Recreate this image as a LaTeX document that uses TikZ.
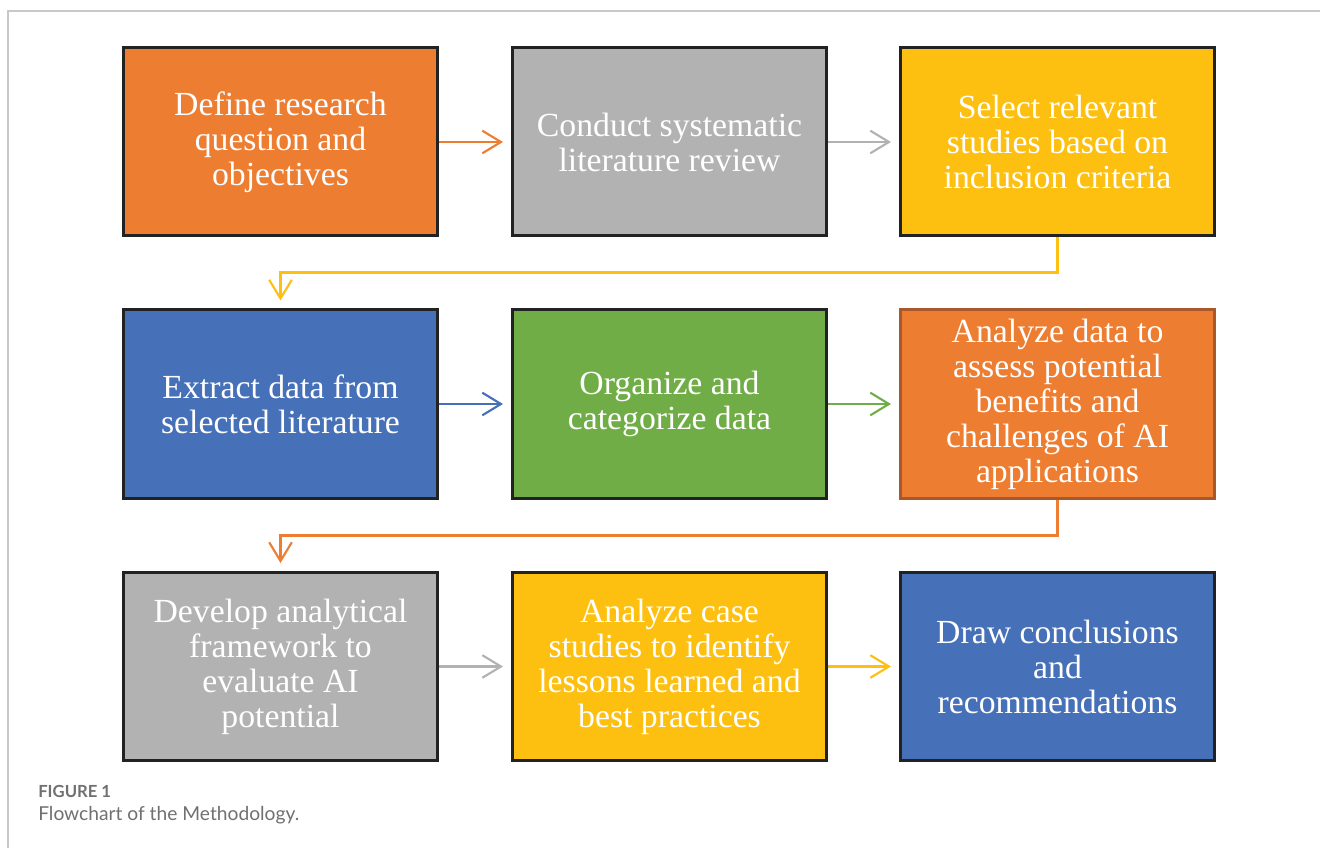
\documentclass[tikz,border=0pt]{standalone}
\usepackage{fontspec}
\setmainfont{Liberation Serif}
\newfontfamily\capfont{Lato}
\usetikzlibrary{arrows.meta}
\definecolor{cora}{HTML}{ED7D31}
\definecolor{cgray}{HTML}{B2B2B2}
\definecolor{cyel}{HTML}{FDC010}
\definecolor{cblue}{HTML}{4670B8}
\definecolor{cgreen}{HTML}{70AD47}
\definecolor{cframe}{HTML}{C8C8C8}
\definecolor{ccap}{HTML}{707070}
\definecolor{cdark}{HTML}{222222}
\definecolor{cbrown}{HTML}{A8582A}
\tikzset{
  box/.style={draw=cdark, line width=2.25pt, minimum width=235.5pt, minimum height=141pt,
    text=white, align=center, inner sep=0pt,
    font=\fontsize{25.3}{26.25}\selectfont},
  conn/.style={line width=1.6pt, -{Straight Barb[length=14pt,width=17pt,line width=1.6pt]}, shorten >=6pt},
}
\begin{document}
\begin{tikzpicture}[x=0.75pt,y=-0.75pt]
\useasboundingbox (0,0) rectangle (1320,848);
\draw[cframe, line width=0.9pt] (8,848) -- (8,11) -- (1320,11);
% row 1
\node[box, fill=cora]  (b1) at (280.5,142) {Define research\\question and\\objectives};
\node[box, fill=cgray] (b2) at (669.5,142) {Conduct systematic\\literature review};
\node[box, fill=cyel]  (b3) at (1057.5,142) {Select relevant\\studies based on\\inclusion criteria};
% row 2
\node[box, fill=cblue]  (b4) at (280.5,404) {Extract data from\\selected literature};
\node[box, fill=cgreen] (b5) at (669.5,404) {Organize and\\categorize data};
\node[box, fill=cora, draw=cbrown] (b6) at (1057.5,404) {Analyze data to\\assess potential\\benefits and\\challenges of AI\\applications};
% row 3
\node[box, fill=cgray] (b7) at (280.5,666.5) {Develop analytical\\framework to\\evaluate AI\\potential};
\node[box, fill=cyel]  (b8) at (669.5,666.5) {Analyze case\\studies to identify\\lessons learned and\\best practices};
\node[box, fill=cblue] (b9) at (1057.5,666.5) {Draw conclusions\\and\\recommendations};
% connectors
\draw[conn, cora]  (b1) -- (b2);
\draw[conn, cgray] (b2) -- (b3);
\draw[conn, cyel]  (b3.south) -- ++(0,35) -| (b4.north);
\draw[conn, cblue] (b4) -- (b5);
\draw[conn, cgreen] (b5) -- (b6);
\draw[conn, cora]  (b6.south) -- ++(0,36) -| (b7.north);
\draw[conn, cgray] (b7) -- (b8);
\draw[conn, cyel]  (b8) -- (b9);
% caption
\node[anchor=base west, inner sep=0pt, text=ccap, font=\capfont\bfseries\fontsize{12.5}{14}\selectfont] (c1) at (38,797) {FIGURE 1};
\node[anchor=base west, inner sep=0pt, text=ccap, font=\capfont\fontsize{14.4}{17}\selectfont] (c2) at (38,820) {Flowchart of the Methodology.};
\end{tikzpicture}
\end{document}
